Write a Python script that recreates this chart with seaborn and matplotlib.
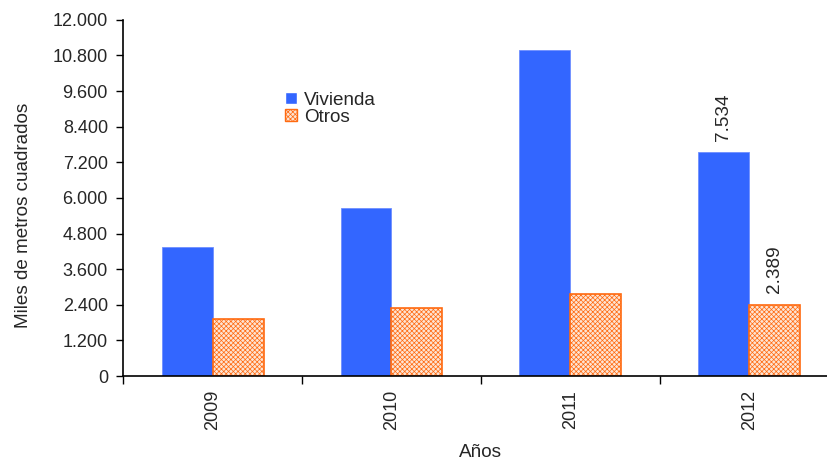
import matplotlib
matplotlib.use("Agg")
import matplotlib.pyplot as plt
import seaborn as sns
import pandas as pd
from matplotlib.ticker import FuncFormatter, FixedLocator

years = ["2009", "2010", "2011", "2012"]
vivienda = [4350, 5660, 10990, 7534]
otros = [1920, 2290, 2760, 2389]
series_names = ["Vivienda", "Otros"]
y_ticks = [0, 1200, 2400, 3600, 4800, 6000, 7200, 8400, 9600, 10800, 12000]
labelled = {("Vivienda", "2012"): "7.534", ("Otros", "2012"): "2.389"}

df = pd.DataFrame({
    "Año": years * 2,
    "Serie": [series_names[0]] * len(years) + [series_names[1]] * len(years),
    "Valor": vivienda + otros,
})

sns.set_style("white")
plt.rcParams['font.family'] = ['Liberation Sans', 'DejaVu Sans']
plt.rcParams['hatch.color'] = '#F8C29E'
plt.rcParams['hatch.linewidth'] = 0.5

FS = 13
FL = 13.6

fig = plt.figure(figsize=(8.27, 4.62), dpi=100)
ax = fig.add_axes([0.149, 0.186, 0.865, 0.771])

sns.barplot(data=df, x="Año", y="Valor", hue="Serie", ax=ax,
            palette={"Vivienda": "#3366FF", "Otros": "#FDE4D3"},
            width=0.57, gap=0, dodge=True, saturation=1, legend=True)

# style Otros bars
for bar in ax.containers[1]:
    bar.set_edgecolor("#FF6A10")
    bar.set_linewidth(1.2)
    bar.set_hatch("xxxxxxx")
for bar in ax.containers[0]:
    bar.set_edgecolor("#6F8FFF")
    bar.set_linewidth(0.6)

# annotations
for ci, name in enumerate(series_names):
    for bar, yr in zip(ax.containers[ci], years):
        key = (name, yr)
        if key in labelled:
            ax.text(bar.get_x() + bar.get_width() / 2, bar.get_height() + 400,
                    labelled[key], rotation=90, ha="center", va="bottom",
                    fontsize=FL)

ax.set_ylim(0, 12000)
ax.set_xlim(-0.5, 3.5)
ax.set_yticks(y_ticks)
ax.yaxis.set_major_formatter(FuncFormatter(lambda v, p: f"{int(v):,}".replace(",", ".")))
ax.set_xticks(range(len(years)))
ax.set_xticklabels(years, rotation=90)
ax.xaxis.set_minor_locator(FixedLocator([-0.5, 0.5, 1.5, 2.5, 3.5]))
ax.tick_params(axis="x", which="major", length=0, labelsize=FS, pad=10)
ax.tick_params(axis="x", which="minor", length=6, width=1, color="black", direction="out", bottom=True)
ax.tick_params(axis="y", length=5, width=1, color="black", direction="out", labelsize=FS, left=True, pad=6)

for s in ["top", "right"]:
    ax.spines[s].set_visible(False)
for s in ["left", "bottom"]:
    ax.spines[s].set_color("black")
    ax.spines[s].set_linewidth(1.2)

ax.set_xlabel("Años", fontsize=FL, labelpad=10)
ax.set_ylabel("Miles de metros cuadrados", fontsize=FL)
ax.yaxis.set_label_coords(-0.127, 0.45)

leg = ax.legend(loc="upper left", bbox_to_anchor=(0.216, 0.82), frameon=False,
                fontsize=FL, handlelength=0.6, handleheight=0.6,
                handletextpad=0.4, labelspacing=0.0, borderaxespad=0)
handles = leg.legend_handles
handles[1].set_edgecolor("#FF6A10")
handles[1].set_hatch("xxxxxxx")

fig.savefig("out.png", dpi=100)
